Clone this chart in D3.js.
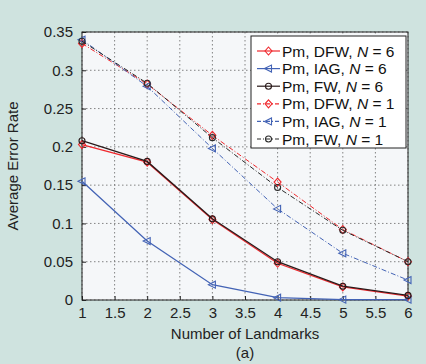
<!DOCTYPE html>
<html><head><meta charset="utf-8">
<script src="https://cdn.jsdelivr.net/npm/d3@7"></script>
<style>body{margin:0;background:#cfe3df;}svg{display:block;font-family:"Liberation Sans",Arial,sans-serif;}</style>
</head><body><svg id="c" width="426" height="364"></svg>
<script>
const landmarks = [1,2,3,4,5,6];
const dfwN6 = [0.203,0.180,0.105,0.048,0.017,0.005];
const iagN6 = [0.155,0.077,0.020,0.003,0.0005,0.0005];
const fwN6  = [0.208,0.181,0.106,0.050,0.018,0.006];
const dfwN1 = [0.335,0.282,0.215,0.154,0.092,0.050];
const iagN1 = [0.340,0.279,0.198,0.119,0.061,0.026];
const fwN1  = [0.338,0.283,0.212,0.147,0.091,0.050];
const xTicks = [1,1.5,2,2.5,3,3.5,4,4.5,5,5.5,6];
const yTicks = [0,0.05,0.1,0.15,0.2,0.25,0.3,0.35];
const seriesNames = ["DFW","IAG","FW","DFW","IAG","FW"];
const seriesN = [6,6,6,1,1,1];

const svg = d3.select("#c");
const L=82,R=408,T=32,B=300;
const x = d3.scaleLinear().domain([1,6]).range([L,R]);
const y = d3.scaleLinear().domain([0,0.35]).range([B,T]);

svg.append("rect").attr("x",L).attr("y",T).attr("width",R-L).attr("height",B-T).attr("fill","#f5f7f9");
const g = svg.append("g");
xTicks.forEach(t=>g.append("line").attr("x1",x(t)).attr("x2",x(t)).attr("y1",T).attr("y2",B).attr("stroke","#666").attr("stroke-width",0.8).attr("stroke-dasharray","1.5,2.5"));
yTicks.forEach(t=>g.append("line").attr("x1",L).attr("x2",R).attr("y1",y(t)).attr("y2",y(t)).attr("stroke","#666").attr("stroke-width",0.8).attr("stroke-dasharray","1.5,2.5"));

const xa = svg.append("g").attr("transform",`translate(0,${B})`).call(d3.axisBottom(x).tickValues(xTicks).tickSize(-4).tickPadding(7).tickFormat(d3.format("")));
const ya = svg.append("g").attr("transform",`translate(${L},0)`).call(d3.axisLeft(y).tickValues(yTicks).tickSize(-4).tickPadding(9).tickFormat(d=>d===0?"0":String(+d.toFixed(2))));
[xa,ya].forEach(a=>{a.selectAll("text").attr("font-size",15).attr("fill","#222").attr("font-family","Liberation Sans, Arial, sans-serif");a.select(".domain").remove();a.selectAll("line").attr("stroke","#222");});
svg.append("rect").attr("x",L).attr("y",T).attr("width",R-L).attr("height",B-T).attr("fill","none").attr("stroke","#222").attr("stroke-width",1);

const cfg = [
 {d:dfwN6,c:"#f0282d",dash:null,m:"d"},
 {d:iagN6,c:"#4363b5",dash:null,m:"t"},
 {d:fwN6,c:"#2a1a1a",dash:null,m:"o"},
 {d:dfwN1,c:"#f0282d",dash:"5,2,1,2",m:"d"},
 {d:iagN1,c:"#4363b5",dash:"5,2,1,2",m:"t"},
 {d:fwN1,c:"#2a2a2a",dash:"5,2,1,2",m:"o"},
];
function marker(sel,type,cx,cy,col){
  if(type==="o") sel.append("circle").attr("cx",cx).attr("cy",cy).attr("r",3).attr("fill","none").attr("stroke",col).attr("stroke-width",1.1);
  else if(type==="d") sel.append("path").attr("d",`M${cx},${cy-4}L${cx+3.5},${cy}L${cx},${cy+4}L${cx-3.5},${cy}Z`).attr("fill","none").attr("stroke",col).attr("stroke-width",1.1);
  else sel.append("path").attr("d",`M${cx-4},${cy}L${cx+3},${cy-3.5}L${cx+3},${cy+3.5}Z`).attr("fill","none").attr("stroke",col).attr("stroke-width",1.1);
}
const line = d3.line().x((d,i)=>x(landmarks[i])).y(d=>y(d));
cfg.forEach(s=>{
  const p = svg.append("path").attr("d",line(s.d)).attr("fill","none").attr("stroke",s.c).attr("stroke-width",s.dash?1:1.3);
  if(s.dash) p.attr("stroke-dasharray",s.dash);
  s.d.forEach((v,i)=>marker(svg,s.m,x(landmarks[i]),y(v),s.c));
});

const lg = svg.append("g");
lg.append("rect").attr("x",251).attr("y",36).attr("width",155).attr("height",112).attr("fill","#fff").attr("stroke","#222").attr("stroke-width",1);
cfg.forEach((s,i)=>{
  const yy = 51 + i*17.6;
  const l = lg.append("line").attr("x1",257).attr("x2",280).attr("y1",yy).attr("y2",yy).attr("stroke",s.c).attr("stroke-width",1.2);
  if(s.dash) l.attr("stroke-dasharray","4,2,1,2");
  marker(lg,s.m,268.5,yy,s.c);
  const t = lg.append("text").attr("x",282).attr("y",yy+5.5).attr("font-size",15.5).attr("fill","#111");
  t.append("tspan").text(`Pm, ${seriesNames[i]}, `);
  t.append("tspan").attr("font-style","italic").text("N");
  t.append("tspan").text(` = ${seriesN[i]}`);
});

svg.append("text").attr("x",245).attr("y",339).attr("text-anchor","middle").attr("font-size",15).attr("fill","#222").text("Number of Landmarks");
svg.append("text").attr("x",245).attr("y",358).attr("text-anchor","middle").attr("font-size",15).attr("fill","#222").text("(a)");
svg.append("text").attr("transform","translate(18,166) rotate(-90)").attr("text-anchor","middle").attr("font-size",15).attr("fill","#222").text("Average Error Rate");
</script></body></html>
